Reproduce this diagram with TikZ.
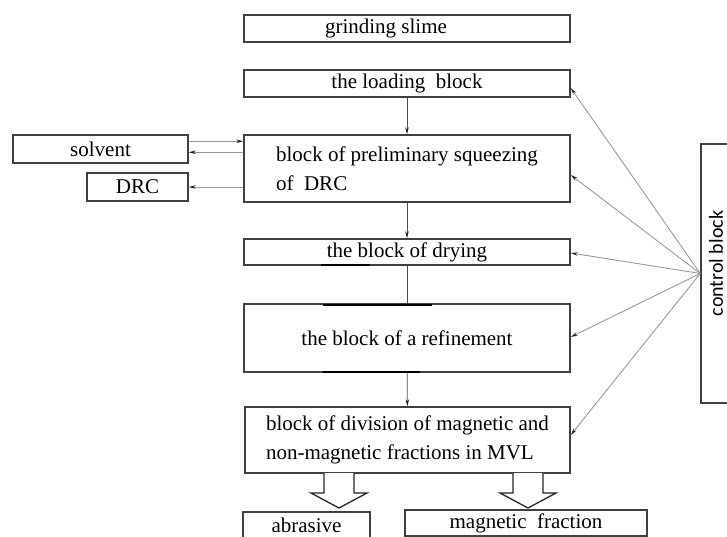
\documentclass[tikz,border=0pt]{standalone}
\usepackage{fontspec}
\setmainfont{Liberation Serif}
\newfontfamily\ctrlfont{Carlito}
\usetikzlibrary{arrows.meta}
\def\hollowarrow(#1,#2){
  \draw[line width=1.3pt, draw=black!85, fill=white] (#1-15,#2) -- (#1-15,#2+20) -- (#1-28,#2+20)
       -- (#1,#2+35) -- (#1+28,#2+20) -- (#1+15,#2+20) -- (#1+15,#2);
}

\begin{document}
\begin{tikzpicture}[x=1pt, y=-1pt,
  blk/.style={draw=black!75, line width=1.5pt, inner sep=0pt, font=\fontsize{21}{29}\selectfont},
  ctl/.style={draw=black!40, line width=0.9pt, -{Stealth[length=7pt,width=3.5pt,black!85]}},
  flow/.style={draw=black!70, line width=0.8pt, -{Stealth[length=7pt,width=3.5pt,black!85]}},
  bar/.style={line width=2.8pt, black}]
\useasboundingbox (0,0) rectangle (727,536);
\clip (0,0) rectangle (727,536);

% main column
\node[blk, minimum width=326, minimum height=27] (slime) at (407,28.5) {\hspace*{-42pt}grinding slime};
\node[blk, minimum width=326, minimum height=27] (load) at (407,83.5) {the loading\ \ block};
\node[blk, minimum width=326, minimum height=67, align=left] (prelim) at (407,168.5)
     {block of preliminary squeezing\\of\ \ DRC};
\node[blk, minimum width=326, minimum height=26] (dry) at (407,252) {the block of drying};
\node[blk, minimum width=326, minimum height=68] (refine) at (407,338) {the block of a refinement};
\node[blk, minimum width=325, minimum height=66, align=left] (divide) at (407.5,440)
     {block of division of magnetic and\\non-magnetic fractions in MVL};

% side boxes
\node[blk, minimum width=175, minimum height=28] (solv) at (100.5,149) {solvent};
\node[blk, minimum width=101, minimum height=28] (drc) at (137.5,187) {DRC};
\node[blk, minimum width=127, minimum height=26] (abr) at (306.5,525) {abrasive};
\node[blk, minimum width=242, minimum height=26] (magf) at (526,523) {magnetic\ \ fraction};
\node[blk, minimum width=40, minimum height=259,
      label={[inner sep=0pt, font=\ctrlfont\fontsize{20}{24}\selectfont, yshift=10pt, xshift=-5pt, rotate=90]center:control block}]
     (ctrl) at (721,273.5) {};

% flow
\draw[flow] (load) -- (prelim);
\draw[flow] (prelim) -- (dry);
\draw[draw=black!70, line width=0.8pt] (dry) -- (refine);
\draw[flow] (refine) -- (divide);

\draw[ctl] ([yshift=-7pt]solv.north east) -- ([yshift=-7pt]prelim.north west);
\draw[ctl] ([yshift=-18pt]prelim.north west) -- ([yshift=-18pt]solv.north east);
\draw[ctl] (prelim.west |- drc.east) -- (drc.east);

% control lines
\draw[ctl] (ctrl.west) -- ([yshift=-4.5pt]load.east);
\draw[ctl] (ctrl.west) -- ([yshift=-6.5pt]prelim.east);
\draw[ctl] (ctrl.west) -- ([yshift=-1pt]dry.east);
\draw[ctl] (ctrl.west) -- ([yshift=1pt]refine.east);
\draw[ctl] (ctrl.west) -- ([yshift=5pt]divide.east);

% thick marks
\draw[bar] (321,265) -- (370,265);
\draw[bar] (323,305) -- (432,305);
\draw[bar] (323,372) -- (420,372);

\hollowarrow(339,473)
\hollowarrow(528,473)
\end{tikzpicture}
\end{document}
